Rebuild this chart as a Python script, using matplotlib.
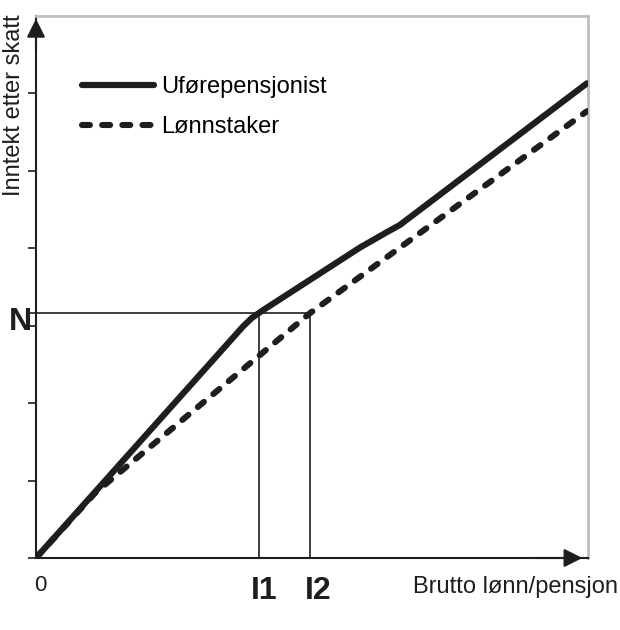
import matplotlib
matplotlib.use("Agg")
import matplotlib.pyplot as plt

plt.rcParams['font.family'] = ['Liberation Sans', 'DejaVu Sans']

# data (x: 0..10, y: 0..7)
ufore_x = [0, 3.75, 3.91, 4.09, 5.87, 6.36, 6.59, 9.98]
ufore_y = [0, 2.99, 3.10, 3.19, 4.01, 4.21, 4.30, 6.13]
lonn_x = [0, 1.07, 4.96, 9.98]
lonn_y = [0, 0.84, 3.16, 5.77]
n_level = 3.17
i1 = 4.04
i2 = 4.96
ytick_pos = [0, 1, 2, 3, 4, 5, 6]

ink = '#1e1e1e'

fig = plt.figure(figsize=(6.2, 6.3), dpi=100)
ax = fig.add_axes([36 / 620, 1 - 558 / 630, 552 / 620, 542 / 630])
ax.set_xlim(0, 10)
ax.set_ylim(0, 7)

for s in ['top', 'right']:
    ax.spines[s].set_color('#bdbdbd')
    ax.spines[s].set_linewidth(2)
for s in ['left', 'bottom']:
    ax.spines[s].set_color(ink)
    ax.spines[s].set_linewidth(1.5)

ax.set_xticks([])
ax.set_yticks(ytick_pos)
ax.set_yticklabels([])
ax.tick_params(axis='y', length=6, width=1.2, color=ink, direction='out')

# helper lines for N, I1, I2
ax.plot([-0.1, i2], [n_level, n_level], color=ink, lw=1.2, clip_on=False)
ax.plot([i1, i1], [0, n_level], color=ink, lw=1.2)
ax.plot([i2, i2], [0, n_level], color=ink, lw=1.2)

ax.plot(lonn_x, lonn_y, color=ink, lw=4.4, ls=(0, (1.3, 2.0)),
        dash_capstyle='round', solid_capstyle='round', label='Lønnstaker', zorder=3)
ax.plot(ufore_x, ufore_y, color=ink, lw=4.5, solid_capstyle='round',
        solid_joinstyle='round', label='Uførepensjonist', zorder=4)

# axis arrows
ax.annotate('', xy=(9.95, 0), xytext=(9.0, 0),
            arrowprops=dict(arrowstyle='-|>', color=ink, lw=1.5, mutation_scale=28))
ax.annotate('', xy=(0, 7.0), xytext=(0, 6.5),
            arrowprops=dict(arrowstyle='-|>', color=ink, lw=1.5, mutation_scale=28),
            annotation_clip=False)

h, l = ax.get_legend_handles_labels()
ax.legend(h[::-1], l[::-1], loc='upper left', bbox_to_anchor=(0.084, 0.889),
          frameon=False, fontsize=17, handlelength=3.05, handletextpad=0.28,
          labelspacing=0.76, borderpad=0, borderaxespad=0)

ax.text(0.07, -0.35, '0', fontsize=16, ha='center', va='center', color=ink)
fig.text(618 / 620, 1 - 587 / 630, 'Brutto lønn/pensjon',
         fontsize=17, ha='right', va='center', color=ink)
big = dict(fontsize=23, fontweight='bold', color=ink,
           family=['Liberation Sans Narrow', 'Liberation Sans', 'DejaVu Sans'])
ax.text(i1 + 0.1, -0.43, 'I1', ha='center', va='center', **big)
ax.text(i2 + 0.15, -0.43, 'I2', ha='center', va='center', **big)
ax.text(-0.07, n_level - 0.12, 'N', ha='right', va='center', **big)

fig.text(14 / 620, 1 - 14 / 630, 'Inntekt etter skatt', rotation=90,
         ha='center', va='top', fontsize=17, color=ink)

fig.savefig('out.png', dpi=100)
